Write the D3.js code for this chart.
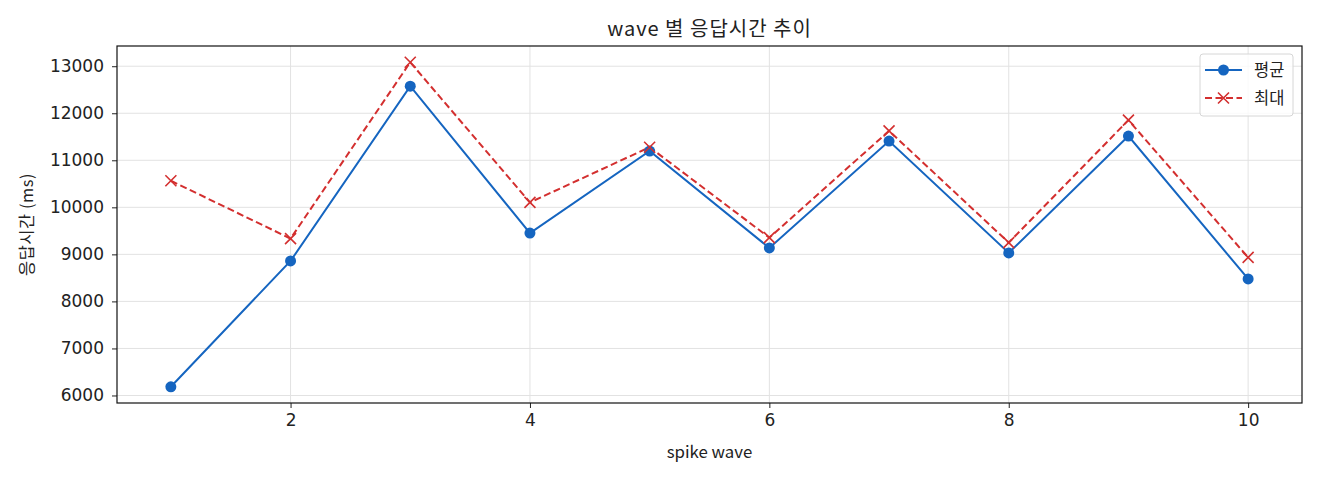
<!DOCTYPE html>
<html>
<head>
<meta charset="utf-8">
<script src="https://cdn.jsdelivr.net/npm/d3@7"></script>
<style>
  body { margin: 0; background: #fff; }
  text { font-family: "Noto Sans CJK KR", "Noto Sans", sans-serif; fill: #222; }
</style>
</head>
<body>
<script>
// data
var waves = [1, 2, 3, 4, 5, 6, 7, 8, 9, 10];
var avgMs = [6185, 8860, 12576, 9452, 11197, 9137, 11409, 9030, 11515, 8478];
var maxMs = [10565, 9335, 13085, 10105, 11278, 9355, 11625, 9250, 11854, 8935];
var xTicks = [2, 4, 6, 8, 10];
var yTicks = [6000, 7000, 8000, 9000, 10000, 11000, 12000, 13000];
var seriesNames = ['평균', '최대'];

function main() {
    var W = 1320, H = 480;
    var left = 117, right = 1302, top = 46, bottom = 403;

    var svg = d3.select('body').append('svg')
        .attr('width', W).attr('height', H);

    var xScale = d3.scaleLinear().domain([0.55, 10.45]).range([left, right]);
    var yMin = d3.min(avgMs.concat(maxMs)), yMax = d3.max(avgMs.concat(maxMs));
    var pad = (yMax - yMin) * 0.05;
    var yScale = d3.scaleLinear().domain([yMin - pad, yMax + pad]).range([bottom, top]);

    // grid
    var grid = svg.append('g');
    grid.selectAll('.gx').data(xTicks).enter().append('line')
        .attr('x1', function(d) { return xScale(d); }).attr('x2', function(d) { return xScale(d); })
        .attr('y1', top).attr('y2', bottom)
        .attr('stroke', '#e2e2e2').attr('stroke-width', 1);
    grid.selectAll('.gy').data(yTicks).enter().append('line')
        .attr('y1', function(d) { return yScale(d); }).attr('y2', function(d) { return yScale(d); })
        .attr('x1', left).attr('x2', right)
        .attr('stroke', '#e2e2e2').attr('stroke-width', 1);

    // axes
    var xAxis = svg.append('g').attr('transform', 'translate(0,' + bottom + ')')
        .call(d3.axisBottom(xScale).tickValues(xTicks).tickSize(5).tickPadding(6));
    var yAxis = svg.append('g').attr('transform', 'translate(' + left + ',0)')
        .call(d3.axisLeft(yScale).tickValues(yTicks).tickSize(5).tickPadding(8).tickFormat(d3.format('d')));
    [xAxis, yAxis].forEach(function(a) {
        a.select('.domain').remove();
        a.selectAll('line').attr('stroke', '#222');
        a.selectAll('text').attr('font-size', '17px')
            .style('font-family', '"DejaVu Sans", sans-serif').attr('fill', '#222');
    });

    // frame
    svg.append('rect').attr('x', left).attr('y', top)
        .attr('width', right - left).attr('height', bottom - top)
        .attr('fill', 'none').attr('stroke', '#111').attr('stroke-width', 1.2);

    var line = d3.line()
        .x(function(d, i) { return xScale(waves[i]); })
        .y(function(d) { return yScale(d); });

    var blue = '#1565c0', red = '#d32f2f';

    svg.append('path').datum(avgMs).attr('d', line)
        .attr('fill', 'none').attr('stroke', blue).attr('stroke-width', 2);
    svg.append('path').datum(maxMs).attr('d', line)
        .attr('fill', 'none').attr('stroke', red).attr('stroke-width', 2)
        .attr('stroke-dasharray', '7,3.5');

    svg.selectAll('.dot').data(avgMs).enter().append('circle')
        .attr('cx', function(d, i) { return xScale(waves[i]); })
        .attr('cy', function(d) { return yScale(d); })
        .attr('r', 5.5).attr('fill', blue);

    function cross(g, cx, cy) {
        var s = 5.5;
        g.append('path')
            .attr('d', 'M' + (cx - s) + ',' + (cy - s) + 'L' + (cx + s) + ',' + (cy + s) +
                       'M' + (cx - s) + ',' + (cy + s) + 'L' + (cx + s) + ',' + (cy - s))
            .attr('stroke', red).attr('stroke-width', 1.6).attr('fill', 'none');
    }
    var crosses = svg.append('g');
    maxMs.forEach(function(d, i) { cross(crosses, xScale(waves[i]), yScale(d)); });

    // titles
    svg.append('text').attr('x', (left + right) / 2).attr('y', 36)
        .attr('text-anchor', 'middle').attr('font-size', '20px').attr('letter-spacing', '1px')
        .text('wave 별 응답시간 추이');
    svg.append('text').attr('x', (left + right) / 2).attr('y', 458)
        .attr('text-anchor', 'middle').attr('font-size', '16.8px').text('spike wave');
    svg.append('text').attr('transform', 'translate(33,' + ((top + bottom) / 2) + ') rotate(-90)')
        .attr('text-anchor', 'middle').attr('font-size', '16.5px').attr('letter-spacing', '0.5px')
        .text('응답시간 (ms)');

    // legend
    var lg = svg.append('g');
    lg.append('rect').attr('x', 1200).attr('y', 54).attr('width', 93).attr('height', 62)
        .attr('rx', 3).attr('fill', '#fff').attr('fill-opacity', 0.8)
        .attr('stroke', '#d6d6d6').attr('stroke-width', 1);
    var rows = [70, 98];
    seriesNames.forEach(function(name, i) {
        var y = rows[i];
        var l = lg.append('line').attr('x1', 1205).attr('x2', 1242).attr('y1', y).attr('y2', y)
            .attr('stroke', i === 0 ? blue : red).attr('stroke-width', 2);
        if (i === 1) {
            l.attr('stroke-dasharray', '7,3.5');
            cross(lg, 1223.5, y);
        } else {
            lg.append('circle').attr('cx', 1223.5).attr('cy', y).attr('r', 5.5).attr('fill', blue);
        }
        lg.append('text').attr('x', 1254).attr('y', y + 6).attr('font-size', '16.5px').text(name);
    });
}
main();
</script>
</body>
</html>
